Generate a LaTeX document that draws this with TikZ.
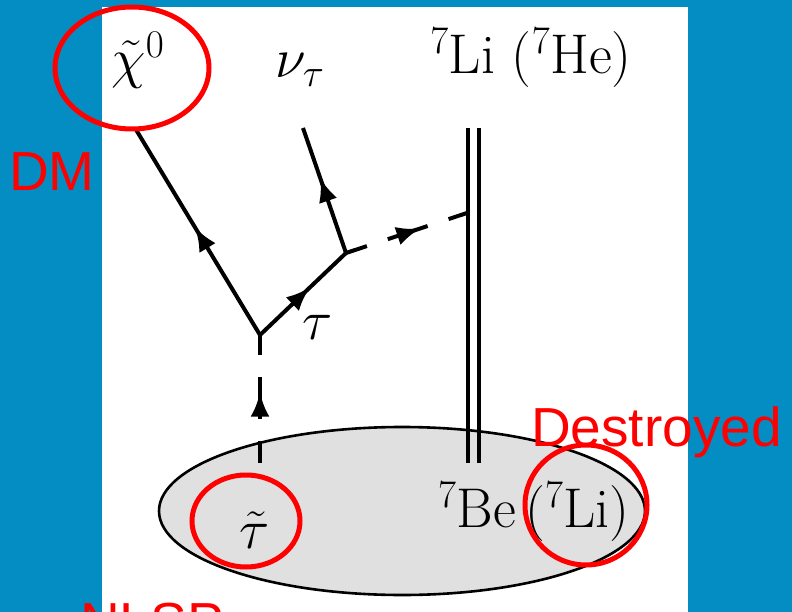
\RequirePackage{fix-cm}
\documentclass[tikz,border=0pt]{standalone}
\usepackage{amsmath}
\usepackage{fontspec}
\newfontfamily\notefont{Liberation Sans}
\usepackage{tikz}
\usetikzlibrary{arrows.meta,decorations.markings,shapes.geometric}
\definecolor{slideblue}{RGB}{4,141,194}
\definecolor{blobgray}{RGB}{224,224,224}
\definecolor{markred}{RGB}{255,0,0}

\begin{document}
\begin{tikzpicture}[
  x=1pt, y=-1pt,
  lab/.style={font=\fontsize{56}{62}\selectfont, inner sep=0pt},
  note/.style={font=\notefont\fontsize{55}{60}\selectfont, text=markred, inner sep=0pt},
  fermion/.style={line width=4pt, postaction={decorate}, decoration={markings,
    mark=at position #1 with {\arrow{Latex[length=24pt,width=19pt]}}}},
  scalar/.style={line width=4pt, dash pattern=on 22pt off 22pt on 42pt off 22pt on 22pt,
    postaction={decorate}, decoration={markings,
    mark=at position #1 with {\arrow{Latex[length=24pt,width=19pt]}}}},
  ring/.style={draw=markred, line width=5pt},
]
\clip (0,0) rectangle (792,612);
\useasboundingbox (0,0) rectangle (792,612);
% slide background and figure page
\fill[slideblue] (0,0) rectangle (792,612);
\fill[white] (102,7) rectangle (688,612);
% nucleus blob
\node[draw, line width=2.6pt, fill=blobgray, ellipse, minimum width=486pt, minimum height=168pt] (blob) at (402,511) {};
\node[lab] (stau) at (255,530) {$\tilde\tau$};
\node[lab] (beli) at (534,512) {${}^7\mathrm{Be}\,({}^7\mathrm{Li})$};
% outgoing labels
\node[lab] (chi) at (138,60) {$\tilde\chi^0$};
\node[lab] (nutau) at (300,70) {$\nu_\tau$};
\node[lab] (lihe) at (531,58) {${}^7\mathrm{Li}$ $({}^7\mathrm{He})$};
\node[lab] (taulab) at (318,327) {$\tau$};
% vertices and line ends
\coordinate (v1) at (260,335);
\coordinate (v2) at (346,253);
\coordinate (chiend) at (135,128);
\coordinate (nuend) at (303,128);
\coordinate (staust) at (260,463);
\coordinate (hit) at (470,212);
\coordinate (ltop) at (468,128);
\coordinate (lbot) at (468,463);
\coordinate (rtop) at (479,128);
\coordinate (rbot) at (479,463);
% decay lines
\draw[fermion=0.52] (v1) -- (chiend);
\draw[fermion=0.58] (v1) -- (v2);
\draw[fermion=0.6] (v2) -- (nuend);
\draw[scalar=0.55] (staust) -- (v1);
\draw[scalar=0.6] (v2) -- (hit);
% nucleus line
\draw[line width=3.2pt] (ltop) -- (lbot);
\draw[line width=3.2pt] (rtop) -- (rbot);
% annotations
\draw[ring] (132,68) ellipse (77pt and 61pt);
\draw[ring] (246,521) ellipse (54pt and 46pt);
\draw[ring] (586,505) ellipse (61pt and 60pt);
\node[note] (dm) at (52,172) {DM};
\node[note, anchor=base west] (destroyed) at (531,446) {Destroyed};
\node[note, anchor=base west] (nlsp) at (80,641) {NLSP};
\end{tikzpicture}
\end{document}
